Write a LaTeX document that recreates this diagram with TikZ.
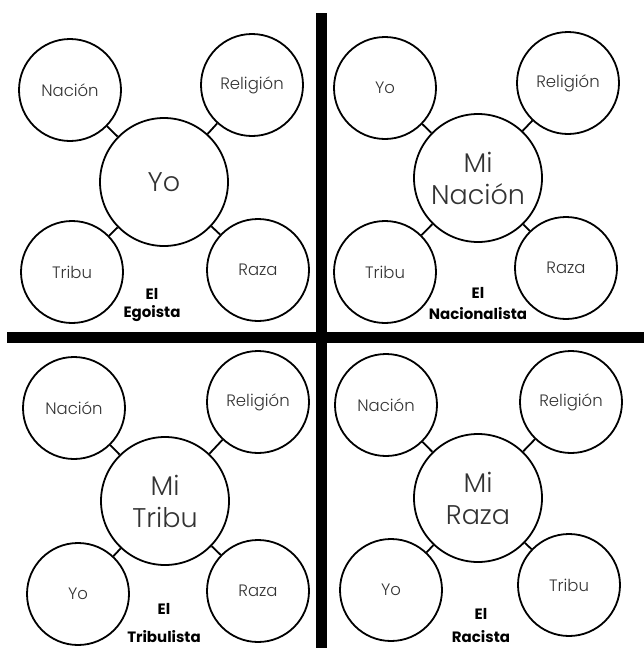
\documentclass[tikz,border=0pt]{standalone}
\usepackage{fontspec}
\setmainfont{Poppins}[UprightFont={* Light},BoldFont={* Bold}]
\definecolor{txt}{HTML}{333333}
\begin{document}
\begin{tikzpicture}[x=1pt,y=-1pt,
  small/.style={circle,draw=black,line width=1.8pt,minimum size=102pt,inner sep=0pt,text=txt,font=\fontsize{16.5}{18}\selectfont},
  big/.style={circle,draw=black,line width=1.8pt,minimum size=128pt,inner sep=0pt,text=txt,align=center,font=\fontsize{27}{32}\selectfont},
  link/.style={line width=1.8pt},
  lbl/.style={font=\bfseries\fontsize{15}{16}\selectfont,text=black,inner sep=0pt},
  bar/.style={fill=black}]
\useasboundingbox (0,0) rectangle (644,648);
% bars
\fill[bar] (316,13) rectangle (327,648);
\fill[bar] (7,332) rectangle (644,343);
% top-left
\node[big] (c1) at (164,182) {Yo};
\node[small] (a1) at (70,90) {Nación};
\node[small] (b1) at (252,85) {Religión};
\node[small] (d1) at (72,272) {Tribu};
\node[small] (e1) at (258,270) {Raza};
\foreach \n in {a1,b1,d1,e1} \draw[link] (c1) -- (\n);
\node[lbl] (t1a) at (152,294) {El};
\node[lbl] (t1b) at (152,314) {Egoista};
% top-right
\node[big] (c2) at (478,178) {Mi\\Nación};
\node[small] (a2) at (385,88) {Yo};
\node[small] (b2) at (568,83) {Religión};
\node[small] (d2) at (385,272) {Tribu};
\node[small] (e2) at (566,268) {Raza};
\foreach \n in {a2,b2,d2,e2} \draw[link] (c2) -- (\n);
\node[lbl] (t2a) at (478,293) {El};
\node[lbl] (t2b) at (478,314) {Nacionalista};
% bottom-left
\node[big] (c3) at (165,501) {Mi\\Tribu};
\node[small] (a3) at (74,408) {Nación};
\node[small] (b3) at (258,402) {Religión};
\node[small] (d3) at (78,594) {Yo};
\node[small] (e3) at (258,591) {Raza};
\foreach \n in {a3,b3,d3,e3} \draw[link] (c3) -- (\n);
\node[lbl] (t3a) at (164,609) {El};
\node[lbl] (t3b) at (164,637) {Tribulista};
% bottom-right
\node[big] (c4) at (478,498) {Mi\\Raza};
\node[small] (a4) at (386,405) {Nación};
\node[small] (b4) at (571,402) {Religión};
\node[small] (d4) at (391,590) {Yo};
\node[small] (e4) at (569,585) {Tribu};
\foreach \n in {a4,b4,d4,e4} \draw[link] (c4) -- (\n);
\node[lbl] (t4a) at (481,614) {El};
\node[lbl] (t4b) at (481,637) {Racista};
\end{tikzpicture}
\end{document}
